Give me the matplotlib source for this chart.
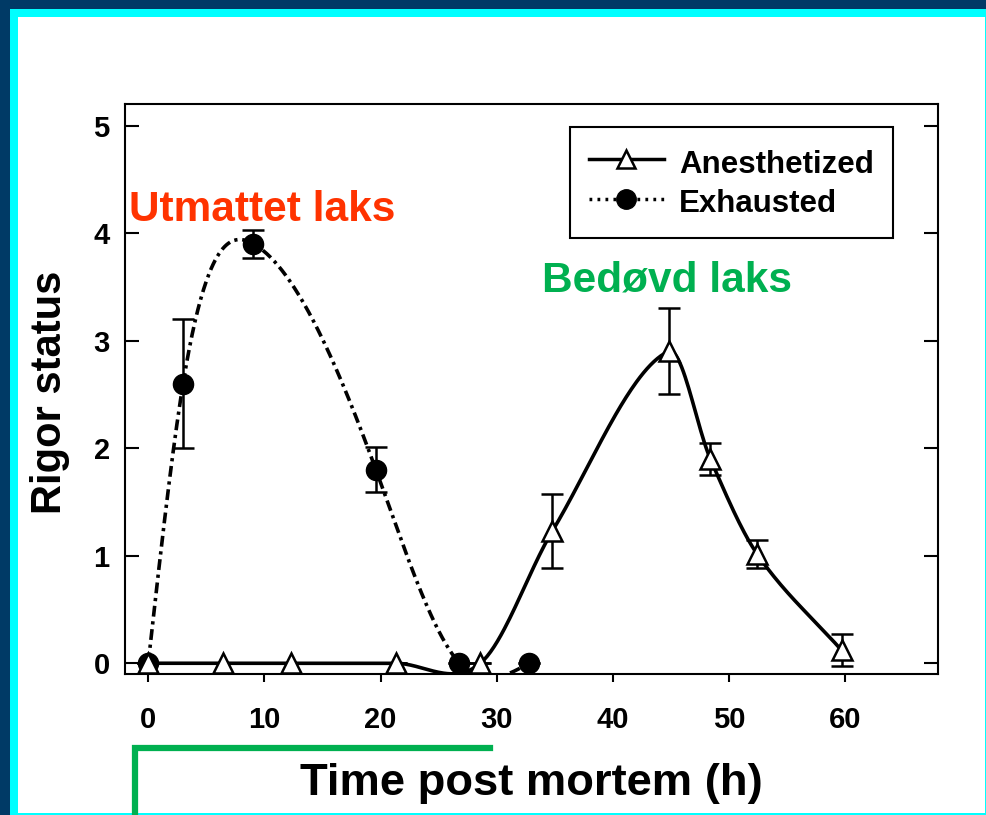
import numpy as np
import matplotlib
matplotlib.use('Agg')
import matplotlib.pyplot as plt
from matplotlib.patches import Rectangle
from matplotlib.lines import Line2D

plt.rcParams['font.family'] = ['Liberation Sans', 'DejaVu Sans']
plt.rcParams['font.weight'] = 'bold'

# exhausted fish (filled circles)
exh_t = [0, 3.0, 9.05, 19.6, 26.8, 32.8]
exh_rigor = [0, 2.6, 3.9, 1.8, 0, 0]
exh_err = [0, 0.6, 0.13, 0.21, 0, 0]

# anesthetized fish (open triangles)
ane_t = [0, 6.4, 12.3, 21.3, 28.6, 34.8, 44.8, 48.4, 52.4, 59.7]
ane_rigor = [0, 0, 0, 0, 0, 1.23, 2.9, 1.9, 1.02, 0.12]
ane_err = [0, 0, 0, 0, 0, 0.34, 0.4, 0.15, 0.13, 0.15]

xticks = [0, 10, 20, 30, 40, 50, 60]
yticks = [0, 1, 2, 3, 4, 5]


def natural_spline(x, y, n=400):
    # natural cubic spline through the points
    x = np.asarray(x, float)
    y = np.asarray(y, float)
    k = len(x)
    h = np.diff(x)
    A = np.zeros((k, k))
    b = np.zeros(k)
    A[0, 0] = A[-1, -1] = 1
    for i in range(1, k - 1):
        A[i, i - 1] = h[i - 1]
        A[i, i] = 2 * (h[i - 1] + h[i])
        A[i, i + 1] = h[i]
        b[i] = 6 * ((y[i + 1] - y[i]) / h[i] - (y[i] - y[i - 1]) / h[i - 1])
    M = np.linalg.solve(A, b)
    xs = np.linspace(x[0], x[-1], n)
    idx = np.clip(np.searchsorted(x, xs) - 1, 0, k - 2)
    x0, x1 = x[idx], x[idx + 1]
    hh = x1 - x0
    a = (x1 - xs) / hh
    c = (xs - x0) / hh
    ys = (a * y[idx] + c * y[idx + 1]
          + ((a ** 3 - a) * M[idx] + (c ** 3 - c) * M[idx + 1]) * hh ** 2 / 6)
    return xs, ys


def cardinal_spline(x, y, n=400):
    # hermite pieces with catmull-rom style slopes
    x = np.asarray(x, float)
    y = np.asarray(y, float)
    m = np.zeros(len(x))
    m[1:-1] = (y[2:] - y[:-2]) / (x[2:] - x[:-2])
    m[0] = (y[1] - y[0]) / (x[1] - x[0])
    m[-1] = (y[-1] - y[-2]) / (x[-1] - x[-2])
    xs = np.linspace(x[0], x[-1], n)
    idx = np.clip(np.searchsorted(x, xs) - 1, 0, len(x) - 2)
    h = x[idx + 1] - x[idx]
    t = (xs - x[idx]) / h
    ys = ((2 * t ** 3 - 3 * t ** 2 + 1) * y[idx]
          + (t ** 3 - 2 * t ** 2 + t) * h * m[idx]
          + (-2 * t ** 3 + 3 * t ** 2) * y[idx + 1]
          + (t ** 3 - t ** 2) * h * m[idx + 1])
    return xs, ys


W, H = 987, 815
fig = plt.figure(figsize=(W / 100, H / 100), dpi=100)
fig.patch.set_facecolor('#003a66')
fig.patches.append(Rectangle((10 / W, 0), 1 - 10 / W, (H - 9) / H,
                             transform=fig.transFigure, facecolor='#00ffff',
                             edgecolor='none', zorder=-3))
fig.patches.append(Rectangle((18 / W, 2 / H), (985 - 18) / W, (H - 17 - 2) / H,
                             transform=fig.transFigure, facecolor='white',
                             edgecolor='none', zorder=-2))

ax = fig.add_axes([125 / W, 1 - 674 / H, (938 - 125) / W, (674 - 104) / H])
ax.set_facecolor('none')

sx, sy = natural_spline(exh_t, exh_rigor)
ax.plot(sx, sy, color='black', lw=2.6, linestyle=(0, (3.0, 1.3, 0.9, 1.3)))
sx, sy = cardinal_spline(ane_t, ane_rigor)
ax.plot(sx, sy, color='black', lw=2.6)

ax.errorbar(exh_t, exh_rigor, yerr=exh_err, fmt='o', color='black',
            markersize=14.5, elinewidth=1.8, capsize=8, capthick=1.8, zorder=3)
ax.errorbar(ane_t, ane_rigor, yerr=ane_err, fmt='^', color='black',
            markerfacecolor='white', markeredgewidth=1.8, markersize=14,
            elinewidth=1.8, capsize=8, capthick=1.8, zorder=3)

ax.set_xlim(-2, 68)
ax.set_ylim(-0.1, 5.2)
ax.set_xticks(xticks)
ax.set_yticks(yticks)
ax.tick_params(axis='y', direction='in', length=10, width=1.5, pad=11,
               labelsize=21, right=True)
ax.tick_params(axis='x', direction='out', length=6, width=1.5, pad=17,
               labelsize=21)
for s in ax.spines.values():
    s.set_linewidth(1.5)

h1 = Line2D([], [], color='black', lw=2.5, marker='^', markerfacecolor='white',
            markeredgewidth=1.8, markersize=13)
h2 = Line2D([], [], color='black', lw=2.5, linestyle=(0, (0.8, 1.5)),
            marker='o', markersize=14)
leg = fig.legend([h1, h2], ['Anesthetized', 'Exhausted'], loc='upper right',
                 bbox_to_anchor=(893 / W, 1 - 127 / H), fontsize=22.5,
                 handlelength=2.4, handleheight=1.25, fancybox=False,
                 edgecolor='black', borderaxespad=0, borderpad=0.6,
                 labelspacing=0.17, handletextpad=0.5, framealpha=1)
leg.get_frame().set_linewidth(1.5)

fig.text(262 / W, 1 - 210 / H, 'Utmattet laks', color='#ff3300',
         fontsize=30.5, fontweight='bold', ha='center', va='center')
fig.text(667 / W, 1 - 280 / H, 'Bedøvd laks', color='#00b050',
         fontsize=30.5, fontweight='bold', ha='center', va='center')
fig.text(50 / W, 1 - 392 / H, 'Rigor status', rotation=90, fontsize=30,
         fontweight='bold', ha='center', va='center')
fig.text(531 / W, 1 - 783 / H, 'Time post mortem (h)', fontsize=32.7,
         fontweight='bold', ha='center', va='center')

# green bracket under the first 30 h
fig.lines.append(Line2D([135 / W, 135 / W, 490 / W],
                        [2 / H, 1 - 748 / H, 1 - 748 / H],
                        transform=fig.transFigure, color='#00b050', lw=4.5,
                        solid_joinstyle='miter'))

fig.savefig('out.png', dpi=100, facecolor=fig.get_facecolor())
